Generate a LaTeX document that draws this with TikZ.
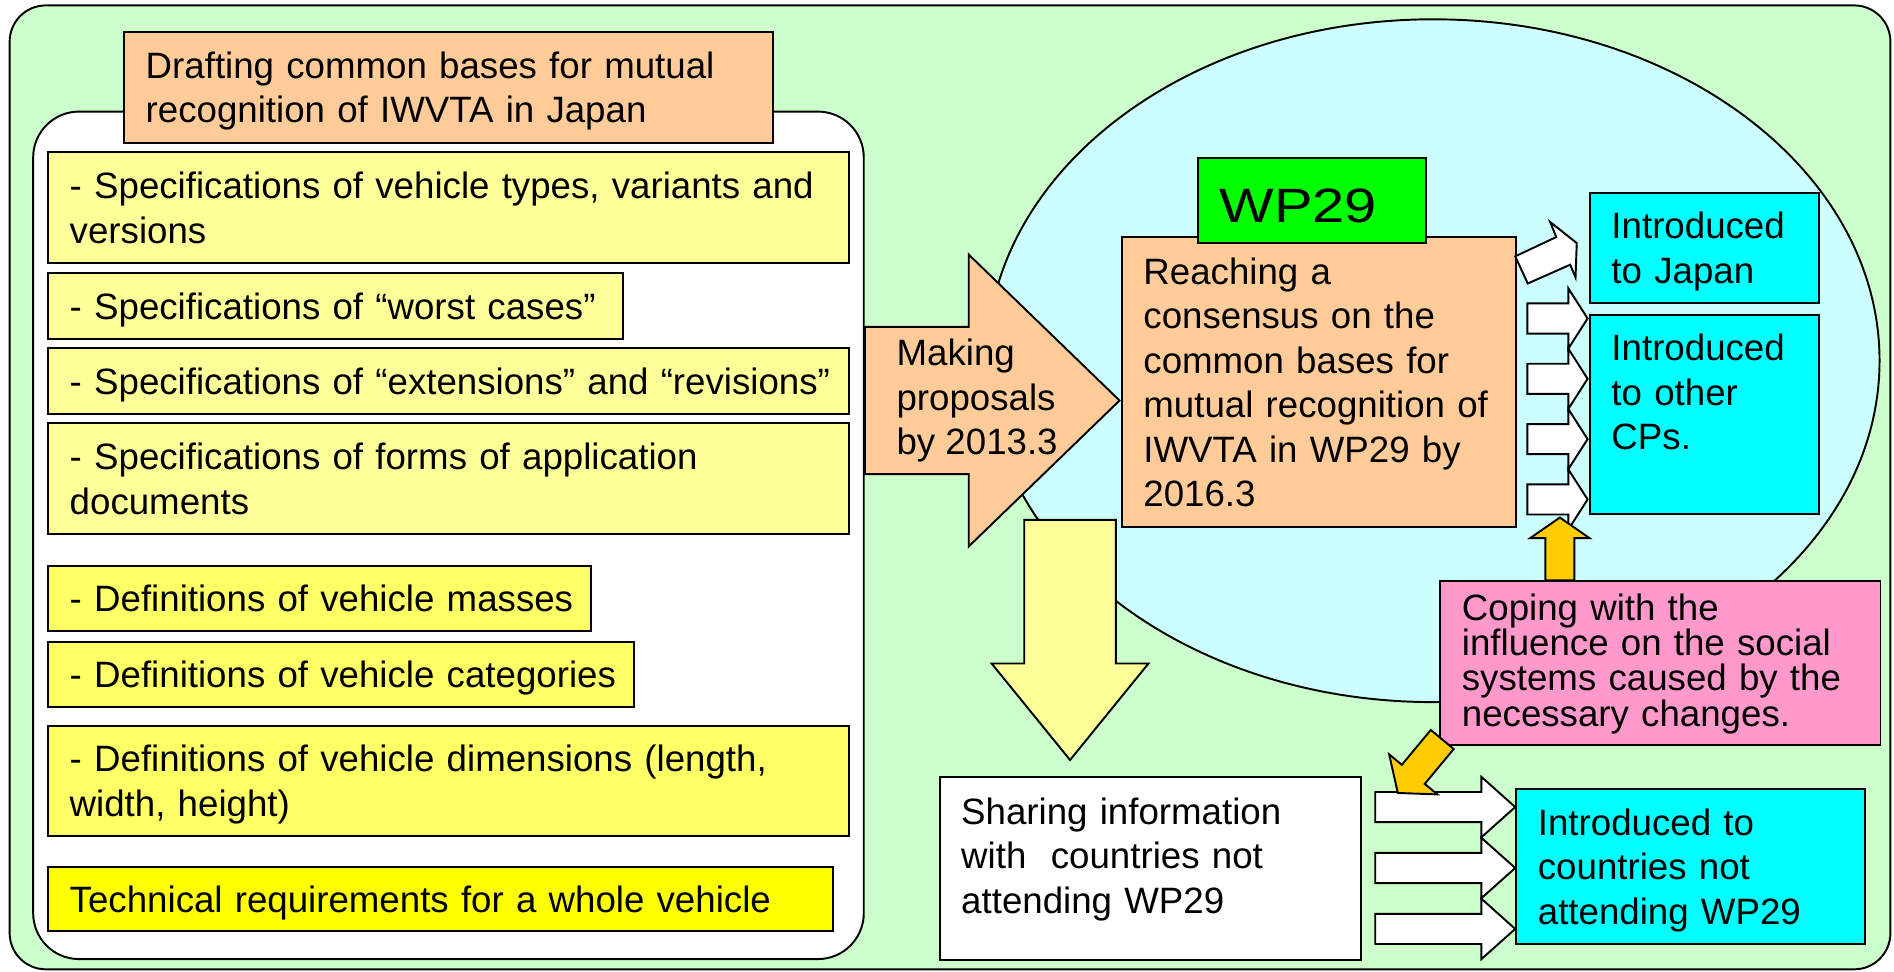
\documentclass[tikz,border=0pt]{standalone}
\usepackage{fontspec}
\setmainfont{Liberation Sans}
\usepackage{graphicx}
\definecolor{bggreen}{HTML}{CCFFCC}
\definecolor{ellcyan}{HTML}{CCFFFF}
\definecolor{orng}{HTML}{FFCC99}
\definecolor{ylwA}{HTML}{FFFF99}
\definecolor{ylwB}{HTML}{FFFF66}
\definecolor{ylwC}{HTML}{FFFF00}
\definecolor{wpgreen}{HTML}{00FF00}
\definecolor{cyanbox}{HTML}{00FFFF}
\definecolor{pinkbox}{HTML}{FF99CC}
\definecolor{goldc}{HTML}{FFCC00}
\newcommand\mystrut{\rule[-7.4pt]{0pt}{36.8pt}}
\newcommand\mlx[1]{\mbox{\mystrut#1}}
\newcommand\pstrut{\rule[-6.4pt]{0pt}{29.3pt}}
\newcommand\plx[1]{\mbox{\pstrut#1}}
\begin{document}
\begin{tikzpicture}[x=1pt,y=-1pt,line join=miter,
  outl/.style={draw=black,line width=1.6pt},
  box/.style={outl,rectangle,anchor=north west,inner xsep=18pt,inner ysep=0pt,align=left,
     font=\fontsize{30.4}{36.8}\selectfont},
  txt/.style={inner sep=0pt,align=left,font=\fontsize{30.4}{36.8}\selectfont},
]
\useasboundingbox (0,0) rectangle (1570,805);
\fill[white] (0,0) rectangle (1570,805);
% background panels
\draw[outl,fill=bggreen,rounded corners=30pt] (8,4.5) rectangle (1567,803.5);
\draw[outl,fill=white,rounded corners=38pt] (27.5,92.5) rectangle (716,795);
% left column
\node[box,fill=orng,minimum width=538pt,minimum height=92pt,text width=502pt] (draft) at (102,25.5)
  {\mlx{Drafting common bases for mutual}\\\mlx{recognition of IWVTA in Japan}};
\node[box,fill=ylwA,minimum width=664pt,minimum height=92pt,text width=628pt] (specA) at (39,125.5)
  {\mlx{- Specifications of vehicle types, variants and}\\\mlx{versions}};
\node[box,fill=ylwA,minimum width=476.5pt,minimum height=55pt,text width=440.5pt] (specB) at (39,225.5)
  {\mlx{- Specifications of “worst cases”}};
\node[box,fill=ylwA,minimum width=664pt,minimum height=54pt,text width=628pt] (specC) at (39,288)
  {\mlx{- Specifications of “extensions” and “revisions”}};
\node[box,fill=ylwA,minimum width=664pt,minimum height=92pt,text width=628pt] (specD) at (39,350)
  {\mlx{- Specifications of forms of application}\\\mlx{documents}};
\node[box,fill=ylwB,minimum width=450pt,minimum height=54pt,text width=414pt] (defA) at (39,468)
  {\mlx{- Definitions of vehicle masses}};
\node[box,fill=ylwB,minimum width=486pt,minimum height=54pt,text width=450pt] (defB) at (39,531)
  {\mlx{- Definitions of vehicle categories}};
\node[box,fill=ylwB,minimum width=664pt,minimum height=91pt,text width=628pt] (defC) at (39,601)
  {\mlx{- Definitions of vehicle dimensions (length,}\\\mlx{width, height)}};
\node[box,fill=ylwC,minimum width=651pt,minimum height=53pt,text width=615pt] (tech) at (39,718)
  {\mlx{Technical requirements for a whole vehicle}};
% WP29 ellipse
\draw[outl,fill=ellcyan] (1188,299) ellipse [x radius=370, y radius=283];
% making proposals arrow
\draw[outl,fill=orng] (717,271) -- (803,271) -- (803,211) -- (928,332) -- (803,453) -- (803,393) -- (717,393) -- cycle;
\node[txt,anchor=west] (mk) at (743,329) {\mlx{Making}\\\mlx{proposals}\\\mlx{by 2013.3}};
% down arrow
\draw[outl,fill=ylwA] (849,431) -- (925,431) -- (925,550) -- (952,550) -- (887,630) -- (822,550) -- (849,550) -- cycle;
% consensus box and WP29 label
\node[box,fill=orng,minimum width=327pt,minimum height=240pt,text width=291pt] (reach) at (929,196)
  {\mlx{Reaching a}\\\mlx{consensus on the}\\\mlx{common bases for}\\\mlx{mutual recognition of}\\\mlx{IWVTA in WP29 by}\\\mlx{2016.3}};
\node[box,fill=wpgreen,minimum width=189pt,minimum height=71pt,text width=153pt,font=\fontsize{40}{40}\selectfont] (wp) at (992,130)
  {\raisebox{-4pt}[28.6pt][0pt]{\scalebox{1.2}[1]{WP29}}};
% white arrows to CPs
\draw[outl,fill=white] (1256,212.5) -- (1290,196.5) -- (1285,184) -- (1307,201.5) -- (1306,230) -- (1301.6,219.4) -- (1266.4,235) -- cycle;
\foreach \c in {264,314,364,414}
  \draw[outl,fill=white] (1266,\c-12.5) -- (1300,\c-12.5) -- (1300,\c-25) -- (1316,\c) -- (1300,\c+25) -- (1300,\c+12.5) -- (1266,\c+12.5) -- cycle;
\node[box,fill=cyanbox,minimum width=190pt,minimum height=91pt,text width=154pt] (japan) at (1317,159)
  {\mlx{Introduced}\\\mlx{to Japan}};
\node[box,fill=cyanbox,minimum width=190pt,minimum height=165pt,text width=154pt] (cps) at (1317,260)
  {\mlx{Introduced}\\\mlx{to other}\\\mlx{CPs.}\\\mlx{}};
% gold up arrow + pink box
\draw[outl,fill=goldc] (1281,481) -- (1281,446) -- (1268.5,446) -- (1293,429) -- (1317.5,446) -- (1305,446) -- (1305,481) -- cycle;
\node[box,fill=pinkbox,minimum width=365pt,minimum height=136pt,text width=329pt,font=\fontsize{30.4}{29.3}\selectfont] (cope) at (1193,481)
  {\plx{Coping with the}\\\plx{influence on the social}\\\plx{systems caused by the}\\\plx{necessary changes.}};
% bottom row
\node[box,fill=white,minimum width=349pt,minimum height=152pt,text width=313pt] (share) at (778,643)
  {\mlx{Sharing information}\\\mlx{with\ \ countries not}\\\mlx{attending WP29}\\[-15.8pt]\mlx{}};
\foreach \c in {669,719.5,770}
  \draw[outl,fill=white] (1140,\c-12.5) -- (1228,\c-12.5) -- (1228,\c-25) -- (1256,\c) -- (1228,\c+25) -- (1228,\c+12.5) -- (1140,\c+12.5) -- cycle;
\draw[outl,fill=goldc] (1186,605.1) -- (1205,620.9) -- (1181,649.8) -- (1191.5,658.5) -- (1158.7,657.3) -- (1151.5,625.3) -- (1162,634) -- cycle;
\node[box,fill=cyanbox,minimum width=289pt,minimum height=129pt,text width=253pt] (notatt) at (1256,653)
  {\mlx{Introduced to}\\\mlx{countries not}\\\mlx{attending WP29}};
\end{tikzpicture}
\end{document}
